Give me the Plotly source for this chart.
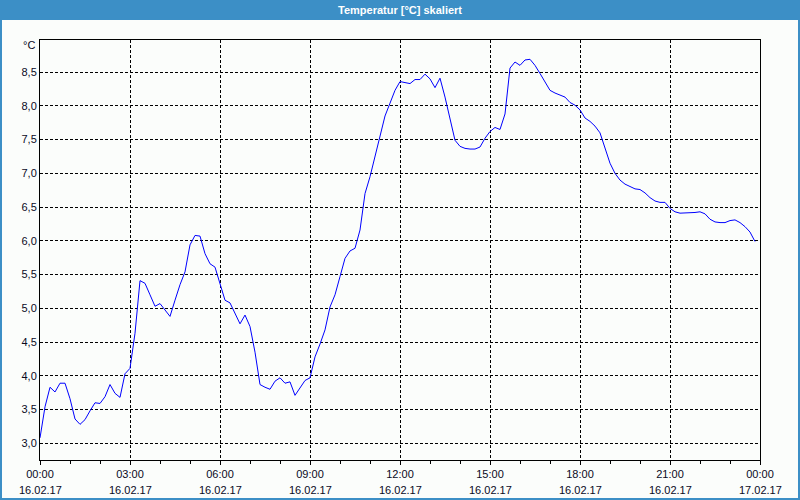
import pandas as pd
import plotly.graph_objects as go

# ---- data (10-minute readings, 16.02.17) ----
times = [
    "00:00", "00:10", "00:20", "00:30", "00:40", "00:50",
    "01:00", "01:10", "01:20", "01:30", "01:40", "01:50",
    "02:00", "02:10", "02:20", "02:30", "02:40", "02:50",
    "03:00", "03:10", "03:20", "03:30", "03:40", "03:50",
    "04:00", "04:10", "04:20", "04:30", "04:40", "04:50",
    "05:00", "05:10", "05:20", "05:30", "05:40", "05:50",
    "06:00", "06:10", "06:20", "06:30", "06:40", "06:50",
    "07:00", "07:10", "07:20", "07:30", "07:40", "07:50",
    "08:00", "08:10", "08:20", "08:30", "08:40", "08:50",
    "09:00", "09:10", "09:20", "09:30", "09:40", "09:50",
    "10:00", "10:10", "10:20", "10:30", "10:40", "10:50",
    "11:00", "11:10", "11:20", "11:30", "11:40", "11:50",
    "12:00", "12:10", "12:20", "12:30", "12:40", "12:50",
    "13:00", "13:10", "13:20", "13:30", "13:40", "13:50",
    "14:00", "14:10", "14:20", "14:30", "14:40", "14:50",
    "15:00", "15:10", "15:20", "15:30", "15:40", "15:50",
    "16:00", "16:10", "16:20", "16:30", "16:40", "16:50",
    "17:00", "17:10", "17:20", "17:30", "17:40", "17:50",
    "18:00", "18:10", "18:20", "18:30", "18:40", "18:50",
    "19:00", "19:10", "19:20", "19:30", "19:40", "19:50",
    "20:00", "20:10", "20:20", "20:30", "20:40", "20:50",
    "21:00", "21:10", "21:20", "21:30", "21:40", "21:50",
    "22:00", "22:10", "22:20", "22:30", "22:40", "22:50",
    "23:00", "23:10", "23:20", "23:30", "23:40", "23:50",
]
temps = [
    3.08, 3.54, 3.83, 3.76, 3.89, 3.89,
    3.66, 3.36, 3.28, 3.35, 3.48, 3.60,
    3.59, 3.69, 3.87, 3.74, 3.68, 4.03,
    4.11, 4.63, 5.41, 5.37, 5.20, 5.03,
    5.07, 4.97, 4.88, 5.12, 5.35, 5.54,
    5.94, 6.08, 6.07, 5.81, 5.66, 5.61,
    5.35, 5.12, 5.08, 4.93, 4.77, 4.90,
    4.73, 4.35, 3.87, 3.83, 3.80, 3.92,
    3.97, 3.89, 3.91, 3.71, 3.83, 3.93,
    3.97, 4.28, 4.47, 4.68, 5.02, 5.20,
    5.47, 5.74, 5.85, 5.89, 6.16, 6.70,
    6.95, 7.25, 7.54, 7.85, 8.04, 8.23,
    8.36, 8.35, 8.33, 8.39, 8.39, 8.47,
    8.40, 8.27, 8.41, 8.13, 7.79, 7.49,
    7.40, 7.37, 7.36, 7.36, 7.39, 7.52,
    7.62, 7.68, 7.65, 7.88, 8.56, 8.65,
    8.60, 8.68, 8.69, 8.60, 8.48, 8.35,
    8.23, 8.19, 8.16, 8.13, 8.05, 8.01,
    7.94, 7.82, 7.77, 7.70, 7.60, 7.39,
    7.15, 7.00, 6.90, 6.84, 6.80, 6.77,
    6.76, 6.71, 6.64, 6.59, 6.57, 6.57,
    6.48, 6.43, 6.41, 6.41, 6.41, 6.42,
    6.43, 6.40, 6.32, 6.28, 6.27, 6.27,
    6.30, 6.31, 6.27, 6.21, 6.13, 5.99,
]
day = "2017-02-16"
x_tick_times = ["00:00", "03:00", "06:00", "09:00", "12:00", "15:00", "18:00", "21:00", "00:00"]
x_tick_dates = ["16.02.17"] * 8 + ["17.02.17"]
y_tick_vals = [3.0, 3.5, 4.0, 4.5, 5.0, 5.5, 6.0, 6.5, 7.0, 7.5, 8.0, 8.5]
y_tick_text = ["3,0", "3,5", "4,0", "4,5", "5,0", "5,5", "6,0", "6,5", "7,0", "7,5", "8,0", "8,5"]
title_text = "Temperatur [°C] skaliert"
unit_text = "°C"

# ---- figure ----
W, H = 800, 500
ML, MR, MT, MB = 40, 40, 40, 40
PW, PH = W - ML - MR, H - MT - MB


def px_x(p):
    return (p - ML) / PW


def px_y(p):
    return (H - MB - p) / PH


x = pd.to_datetime([f"{day} {t}" for t in times])
tick_pos = pd.date_range(f"{day} 00:00", periods=len(x_tick_times), freq="3h")

BLUE = "#3c8fc6"
BG = "#fbfdfb"
FONT = "Liberation Sans"
TXT = "#0a0a1e"

fig = go.Figure()
fig.add_trace(go.Scatter(x=x, y=temps, mode="lines",
                         line=dict(color="#0000ff", width=1),
                         hoverinfo="skip", showlegend=False))

fig.update_layout(
    width=W, height=H,
    margin=dict(l=ML, r=MR, t=MT, b=MB, pad=0),
    paper_bgcolor=BG, plot_bgcolor=BG,
    font=dict(family=FONT, size=11, color=TXT),
    showlegend=False,
)
fig.update_xaxes(
    range=[tick_pos[0], tick_pos[-1]],
    tickmode="array", tickvals=tick_pos, ticktext=x_tick_times,
    ticks="outside", ticklen=4, tickcolor="#000000", tickwidth=1,
    showgrid=True, gridcolor="#000000", gridwidth=1, griddash="3px,2px",
    showline=True, linecolor="#000000", linewidth=1, mirror=True,
    tickfont=dict(family=FONT, size=11, color=TXT),
    minor=dict(tickmode="linear", tick0=f"{day} 00:00", dtick=3600000,
               ticks="outside", ticklen=3, tickcolor="#000000", showgrid=False),
    fixedrange=True,
)
fig.update_yaxes(
    range=[2.752, 8.976],
    tickmode="array", tickvals=y_tick_vals, ticktext=y_tick_text,
    ticks="", showgrid=True, gridcolor="#000000", gridwidth=1, griddash="3px,2px",
    zeroline=False,
    showline=True, linecolor="#000000", linewidth=1, mirror=True,
    tickfont=dict(family=FONT, size=11, color=TXT),
    fixedrange=True,
)

# date labels under the time labels
for pos, d in zip(tick_pos, x_tick_dates):
    fig.add_annotation(x=pos, y=px_y(489.5), xref="x", yref="paper",
                       text=d, showarrow=False, xanchor="center", yanchor="middle",
                       font=dict(family=FONT, size=11, color=TXT))

# unit label
fig.add_annotation(x=px_x(37), y=px_y(45), xref="paper", yref="paper",
                   text=unit_text, showarrow=False, xanchor="right", yanchor="middle",
                   font=dict(family=FONT, size=11, color=TXT))

# title bar and window frame
frame = [
    (0, 0, W, 20),      # title bar
    (0, 0, 2, H),       # left border
    (W - 2, 0, W, H),   # right border
    (0, H - 2, W, H),   # bottom border
]
for x0, y0, x1, y1 in frame:
    fig.add_shape(type="rect", xref="paper", yref="paper",
                  x0=px_x(x0), x1=px_x(x1), y0=px_y(y1), y1=px_y(y0),
                  line=dict(width=0), fillcolor=BLUE, layer="above")

fig.add_annotation(x=0.5, y=px_y(10), xref="paper", yref="paper",
                   text=f"<b>{title_text}</b>", showarrow=False,
                   xanchor="center", yanchor="middle",
                   font=dict(family=FONT, size=11, color="#ffffff"))

fig.write_html("out.html")
